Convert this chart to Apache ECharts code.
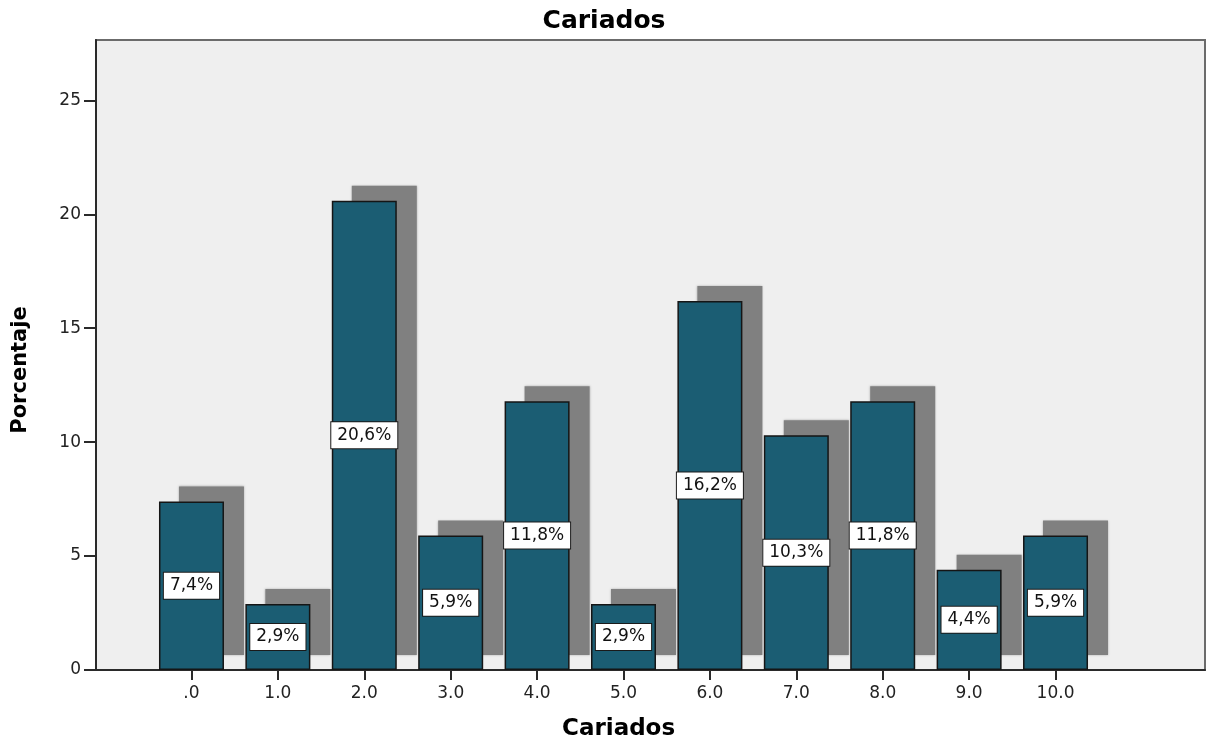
<!DOCTYPE html>
<html>
<head>
<meta charset="utf-8">
<script src="https://cdn.jsdelivr.net/npm/echarts@6/dist/echarts.min.js"></script>
<style>
  html, body { margin: 0; padding: 0; background: #ffffff; }
  #chart { width: 1207px; height: 742px; }
</style>
</head>
<body>
<div id="chart"></div>
<script>
// Number of decayed teeth ("Cariados") and the percentage of patients per count
const categories = ['.0', '1.0', '2.0', '3.0', '4.0', '5.0', '6.0', '7.0', '8.0', '9.0', '10.0'];
const percentages = [7.4, 2.9, 20.6, 5.9, 11.8, 2.9, 16.2, 10.3, 11.8, 4.4, 5.9];
const yTicks = [0, 5, 10, 15, 20, 25];

const FONT = '"DejaVu Sans", "Liberation Sans", sans-serif';
const BAR_W = 65;          // bar width in px
const SHADOW_DX = 20;      // drop-shadow offset in px
const SHADOW_DY = -15;

const catIndex = categories.map((c, i) => i);
const barData = catIndex.map(i => [i, percentages[i]]);

const chart = echarts.init(document.getElementById('chart'));

// Flat grey drop shadow behind each bar, shifted right and up
function renderShadow(params, api) {
  const top = api.coord([api.value(0), api.value(1)]);
  const base = api.coord([api.value(0), 0]);
  return {
    type: 'rect',
    shape: {
      x: top[0] - BAR_W / 2 + SHADOW_DX,
      y: top[1] + SHADOW_DY,
      width: BAR_W,
      height: base[1] - top[1]
    },
    style: { fill: '#808080', shadowColor: 'rgba(128,128,128,0.6)', shadowBlur: 2 }
  };
}

chart.setOption({
  animation: false,
  backgroundColor: '#ffffff',
  title: {
    text: 'Cariados',
    left: 599,
    top: 4,
    textAlign: 'center',
    textStyle: { fontFamily: FONT, fontSize: 25, fontWeight: 'bold', color: '#000' }
  },
  grid: {
    left: 96, top: 40, right: 2, bottom: 72,
    show: true,
    backgroundColor: '#efefef',
    borderColor: '#6b6b6b',
    borderWidth: 2
  },
  xAxis: {
    type: 'value',
    min: -1.105,
    max: 11.73,
    splitLine: { show: false },
    axisLine: { show: true, onZero: false, lineStyle: { color: '#2a2a2a', width: 2 } },
    axisTick: {
      show: true,
      customValues: catIndex,
      length: 10,
      lineStyle: { color: '#2a2a2a', width: 2 }
    },
    axisLabel: {
      customValues: catIndex,
      formatter: v => categories[Math.round(v)],
      margin: 15,
      fontFamily: FONT,
      fontSize: 17,
      color: '#222'
    }
  },
  yAxis: {
    type: 'value',
    min: 0,
    max: 27.65,
    splitLine: { show: false },
    axisLine: { show: true, onZero: false, lineStyle: { color: '#2a2a2a', width: 2 } },
    axisTick: {
      show: true,
      customValues: yTicks,
      length: 12,
      lineStyle: { color: '#2a2a2a', width: 2 }
    },
    axisLabel: {
      customValues: yTicks,
      margin: 15,
      fontFamily: FONT,
      fontSize: 17,
      color: '#222'
    }
  },
  graphic: [
    {
      type: 'text',
      left: 562,
      top: 718,
      style: { text: 'Cariados', font: 'bold 23px ' + FONT, fill: '#000' }
    },
    {
      type: 'text',
      x: 10,
      y: 370,
      rotation: Math.PI / 2,
      style: {
        text: 'Porcentaje',
        font: 'bold 21px ' + FONT,
        fill: '#000',
        align: 'center',
        verticalAlign: 'top'
      }
    }
  ],
  series: [
    {
      type: 'custom',
      renderItem: renderShadow,
      data: barData,
      z: 1,
      silent: true
    },
    {
      type: 'bar',
      data: barData,
      barWidth: BAR_W,
      z: 2,
      itemStyle: {
        color: '#1b5d73',
        borderColor: '#151515',
        borderWidth: 1.5
      },
      label: {
        show: true,
        position: 'inside',
        formatter: p => p.value[1].toFixed(1).replace('.', ',') + '%',
        fontFamily: FONT,
        fontSize: 17,
        color: '#111',
        backgroundColor: '#ffffff',
        borderColor: '#1a1a1a',
        borderWidth: 1,
        padding: [5, 6, 4, 6]
      },
      emphasis: { disabled: true }
    }
  ]
});
</script>
</body>
</html>
